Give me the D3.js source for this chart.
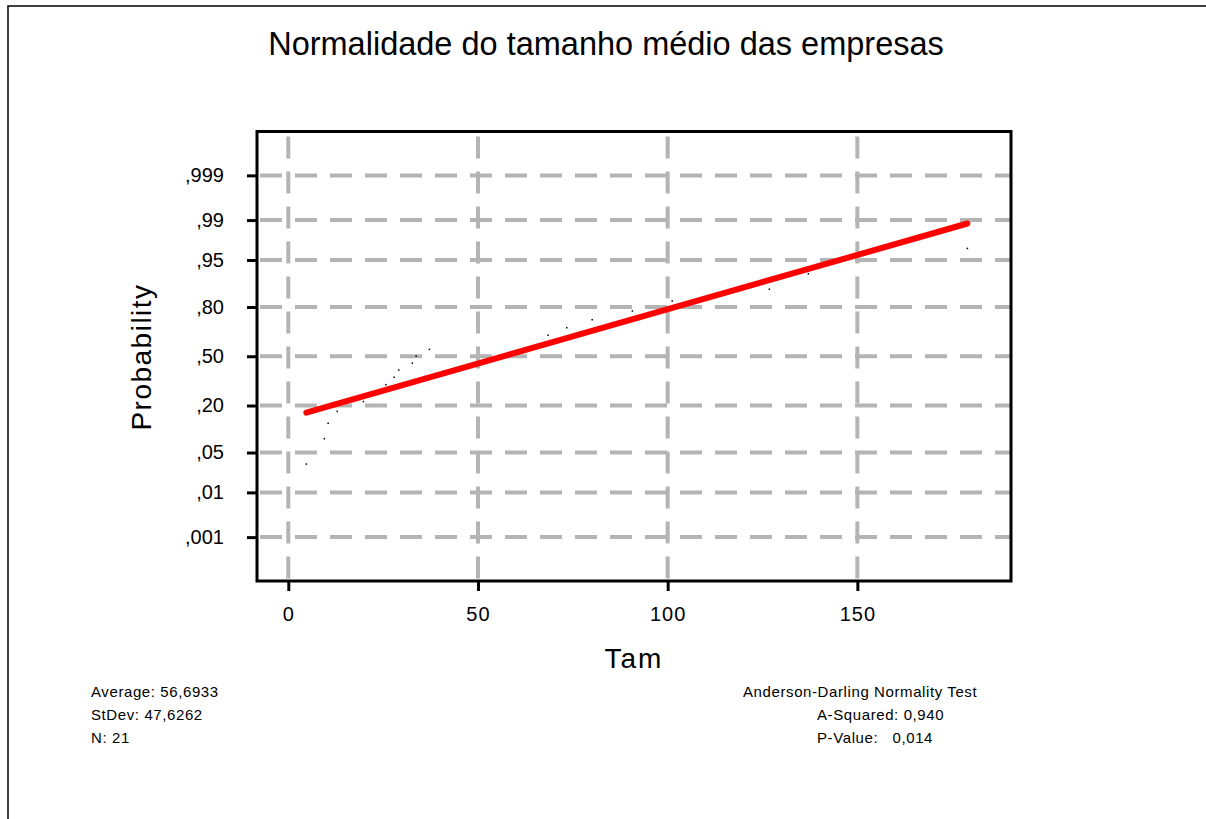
<!DOCTYPE html>
<html><head><meta charset="utf-8">
<script src="https://cdn.jsdelivr.net/npm/d3@7"></script>
<style>
body{margin:0;background:#fff}
svg{display:block}
text{font-family:"Liberation Sans",Arial,sans-serif;fill:#000}
</style>
</head><body>
<svg id="chart" width="1206" height="819"></svg>
<script>
// ---- data ----
const tamValues = [4.75, 9.5, 10.5, 12.9, 19.8, 21.5, 25.7, 27.9, 29.1, 32.7, 33.7, 37.2, 67.7, 68.5, 73.4, 80.1, 90.7, 101.2, 126.8, 137.1, 179.0];
const probTicks = [0.001, 0.01, 0.05, 0.20, 0.50, 0.80, 0.95, 0.99, 0.999];
const probTickLabels = [",001", ",01", ",05", ",20", ",50", ",80", ",95", ",99", ",999"];
const xTicks = [0, 50, 100, 150];
const xTickLabels = ["0", "50", "100", "150"];
const titleText = "Normalidade do tamanho médio das empresas";
const xLabel = "Tam";
const yLabel = "Probability";
const statsLeft = ["Average: 56,6933", "StDev: 47,6262", "N: 21"];
const statsRight = ["Anderson-Darling Normality Test", "A-Squared: 0,940", "P-Value:   0,014"];

// inverse normal CDF (Acklam)
function probit(p){
  const a=[-3.969683028665376e+01,2.209460984245205e+02,-2.759285104469687e+02,1.383577518672690e+02,-3.066479806614716e+01,2.506628277459239e+00];
  const b=[-5.447609879822406e+01,1.615858368580409e+02,-1.556989798598866e+02,6.680131188771972e+01,-1.328068155288572e+01];
  const c=[-7.784894002430293e-03,-3.223964580411365e-01,-2.400758277161838e+00,-2.549732539343734e+00,4.374664141464968e+00,2.938163982698783e+00];
  const d=[7.784695709041462e-03,3.224671290700398e-01,2.445134137142996e+00,3.754408661907416e+00];
  const pl=0.02425, ph=1-pl; let q,r;
  if(p<pl){q=Math.sqrt(-2*Math.log(p));return (((((c[0]*q+c[1])*q+c[2])*q+c[3])*q+c[4])*q+c[5])/((((d[0]*q+d[1])*q+d[2])*q+d[3])*q+1);}
  if(p<=ph){q=p-0.5;r=q*q;return (((((a[0]*r+a[1])*r+a[2])*r+a[3])*r+a[4])*r+a[5])*q/(((((b[0]*r+b[1])*r+b[2])*r+b[3])*r+b[4])*r+1);}
  q=Math.sqrt(-2*Math.log(1-p));return -(((((c[0]*q+c[1])*q+c[2])*q+c[3])*q+c[4])*q+c[5])/((((d[0]*q+d[1])*q+d[2])*q+d[3])*q+1);
}

const svg = d3.select("#chart");
const L = 257, R = 1011, T = 131.5, B = 581;
const x = d3.scaleLinear().domain([-8.25, 190.5]).range([L, R]);
const y = d3.scaleLinear().domain([-3.84, 3.84]).range([B, T]);

// outer border
svg.append("rect").attr("x", 8).attr("y", 6).attr("width", 1230).attr("height", 850)
  .attr("fill", "none").attr("stroke", "#000").attr("stroke-width", 1.5);

// title
svg.append("text").attr("x", 606).attr("y", 55).attr("text-anchor", "middle")
  .style("font-size", "32.5px").text(titleText);

// grid
const grid = svg.append("g").attr("stroke", "#b4b4b4").attr("stroke-width", 4).attr("stroke-dasharray", "22,13");
grid.selectAll(".h").data(probTicks).enter().append("line")
  .attr("x1", L + 3).attr("x2", R).attr("y1", d => y(probit(d))).attr("y2", d => y(probit(d)));
grid.selectAll(".v").data(xTicks).enter().append("line")
  .attr("y1", T + 5).attr("y2", B).attr("x1", d => x(d)).attr("x2", d => x(d));

// axes
const yAxis = d3.axisLeft(y).tickValues(probTicks.map(probit))
  .tickFormat((d, i) => probTickLabels[i]).tickSize(10).tickPadding(23);
const gy = svg.append("g").attr("transform", `translate(${L},0)`).call(yAxis);
const xAxis = d3.axisBottom(x).tickValues(xTicks)
  .tickFormat((d, i) => xTickLabels[i]).tickSize(10).tickPadding(16);
const gx = svg.append("g").attr("transform", `translate(0,${B})`).call(xAxis);
[gx, gy].forEach(g => {
  g.select(".domain").remove();
  g.selectAll(".tick line").attr("stroke", "#000").attr("stroke-width", 3);
  g.selectAll(".tick text").attr("fill", "#000").style("font-size", "20px")
    .style("font-family", '"Liberation Sans",Arial,sans-serif');
});
gx.selectAll(".tick text").style("letter-spacing", "1px");

// data points (plotting positions)
const n = tamValues.length;
const pts = tamValues.slice().sort((a, b) => a - b).map((v, i) => ({ v, z: probit((i + 1 - 0.3) / (n + 0.4)) }));
svg.append("g").selectAll("rect").data(pts).enter().append("rect")
  .attr("x", d => x(d.v) - 0.75).attr("y", d => y(d.z) - 0.75)
  .attr("width", 1.5).attr("height", 1.5).attr("fill", "#000");

// least squares fit of z on x
const mx = d3.mean(pts, d => d.v), mz = d3.mean(pts, d => d.z);
const slope = d3.sum(pts, d => (d.v - mx) * (d.z - mz)) / d3.sum(pts, d => (d.v - mx) ** 2);
const ext = d3.extent(pts, d => d.v);
const fit = ext.map(v => ({ v, z: mz + slope * (v - mx) }));
svg.append("path").datum(fit)
  .attr("d", d3.line().x(d => x(d.v)).y(d => y(d.z)))
  .attr("stroke", "#ff0000").attr("stroke-width", 6).attr("stroke-linecap", "round").attr("fill", "none");

// frame
svg.append("rect").attr("x", L).attr("y", T).attr("width", R - L).attr("height", B - T)
  .attr("fill", "none").attr("stroke", "#000").attr("stroke-width", 3);

// axis labels
svg.append("text").attr("x", 634).attr("y", 668).attr("text-anchor", "middle")
  .style("font-size", "28px").style("letter-spacing", "2px").text(xLabel);
svg.append("text").attr("transform", "translate(151,357) rotate(-90)").attr("text-anchor", "middle")
  .style("font-size", "28px").style("letter-spacing", "1.5px").text(yLabel);

// stats
const statY = [697, 720, 743];
svg.append("g").selectAll("text").data(statsLeft).enter().append("text")
  .attr("x", 91).attr("y", (d, i) => statY[i])
  .style("font-size", "15px").style("letter-spacing", "0.6px").text(d => d);
const rightX = [743, 817, 817];
svg.append("g").selectAll("text").data(statsRight).enter().append("text")
  .attr("x", (d, i) => rightX[i]).attr("y", (d, i) => statY[i])
  .attr("xml:space", "preserve").style("white-space", "pre")
  .style("font-size", "15px").style("letter-spacing", "0.6px").text(d => d);
</script>
</body></html>
